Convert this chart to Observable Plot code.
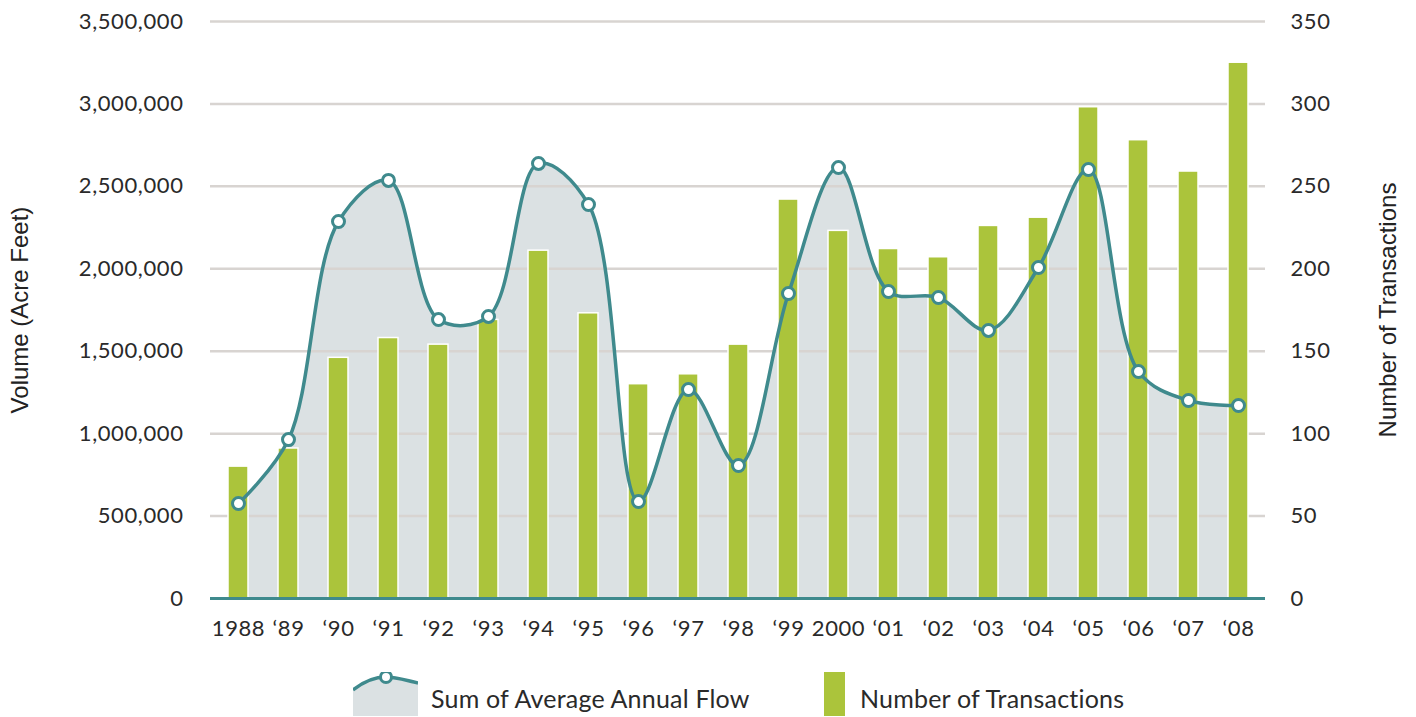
<!DOCTYPE html>
<html>
<head>
<meta charset="utf-8">
<script src="https://cdn.jsdelivr.net/npm/d3@7"></script>
<script src="https://cdn.jsdelivr.net/npm/@observablehq/plot@0.6"></script>
<style>
  html, body { margin: 0; padding: 0; background: #fff; }
  #chart { width: 1416px; height: 660px; }
  .legend { position: relative; height: 57px; width: 1416px; font-family: Lato, "Noto Sans", sans-serif; font-size: 25px; letter-spacing: 0.2px; color: #2a2a2a; }
  .legend .item { position: absolute; display: flex; align-items: center; height: 44px; }
  .legend svg { display: block; }
</style>
</head>
<body>
<div id="chart"></div>
<div class="legend" id="legend"></div>
<script>
const years = ["1988","‘89","‘90","‘91","‘92","‘93","‘94","‘95","‘96","‘97","‘98","‘99","2000","‘01","‘02","‘03","‘04","‘05","‘06","‘07","‘08"];
const volume = [576000, 964000, 2287000, 2536000, 1692000, 1711000, 2639000, 2390000, 588000, 1268000, 807000, 1850000, 2614000, 1862000, 1826000, 1626000, 2008000, 2602000, 1377000, 1201000, 1171000];
const transactions = [80, 91, 146, 158, 154, 169, 211, 173, 130, 136, 154, 242, 223, 212, 207, 226, 231, 298, 278, 259, 325];
const leftTicks = [0, 500000, 1000000, 1500000, 2000000, 2500000, 3000000, 3500000];
const rightTicks = [0, 50, 100, 150, 200, 250, 300, 350];

const ratio = 3500000 / 350;
const data = years.map((y, i) => ({year: y, volume: volume[i], count: transactions[i]}));

const teal = "#3f8a8d";
const green = "#abc43b";
const areaFill = "#dbe1e3";
const gridColor = "#d8d4d1";
const textColor = "#2a2a2a";
const titleFont = "'Liberation Sans', Arial, sans-serif";

const chart = Plot.plot({
  width: 1416,
  height: 660,
  marginTop: 21,
  marginBottom: 62,
  marginLeft: 210,
  marginRight: 151,
  style: {fontFamily: "Lato, sans-serif", fontSize: "22px", color: textColor, background: "#fff", letterSpacing: "0.6px"},
  x: {type: "band", domain: years, paddingInner: 0.6, paddingOuter: 0.3, align: 0.5},
  y: {domain: [0, 3500000]},
  marks: [
    Plot.areaY(data, {x: "year", y: "volume", fill: areaFill, curve: "catmull-rom"}),
    Plot.ruleY(leftTicks.filter(d => d > 0), {stroke: gridColor, strokeWidth: 2.5}),
    Plot.barY(data, {x: "year", y: d => d.count * ratio, fill: green, stroke: "#fff", strokeWidth: 1.5}),
    Plot.ruleY([0], {stroke: teal, strokeWidth: 3}),
    Plot.lineY(data, {x: "year", y: "volume", stroke: teal, strokeWidth: 3.5, curve: "catmull-rom"}),
    Plot.dot(data, {x: "year", y: "volume", r: 6, fill: "#fff", stroke: teal, strokeWidth: 3}),
    Plot.axisX({ticks: years, tickSize: 0, tickPadding: 22, fontSize: 22, label: null}),
    Plot.axisY({anchor: "left", ticks: leftTicks, tickSize: 0, tickPadding: 27, fontSize: 22,
      tickFormat: d3.format(","), label: "Volume (Acre Feet)", labelAnchor: "center", labelArrow: "none",
      labelOffset: 200}),
    Plot.axisY({anchor: "right", ticks: rightTicks.map(d => d * ratio), tickSize: 0, tickPadding: 25, fontSize: 22,
      tickFormat: d => String(d / ratio), label: "Number of Transactions", labelAnchor: "center", labelArrow: "none",
      labelOffset: 130})
  ]
});
document.getElementById("chart").appendChild(chart);

// axis titles in an Arial-like face
chart.querySelectorAll("text").forEach(el => {
  const t = el.textContent;
  if (t === "Volume (Acre Feet)" || t === "Number of Transactions") {
    el.style.fontFamily = titleFont;
    el.style.fontSize = "24px";
    el.style.letterSpacing = "0px";
    el.setAttribute("fill", "#222");
  }
});

// Legend
const legend = document.getElementById("legend");
const item1 = document.createElement("div");
item1.className = "item";
item1.style.left = "353px";
item1.style.top = "12px";
item1.innerHTML = `<svg width="65" height="44" viewBox="0 0 65 44">
  <path d="M0,18 C10,10 22,5 33,5 C44,5 55,9 65,11 L65,44 L0,44 Z" fill="${areaFill}"/>
  <path d="M0,18 C10,10 22,5 33,5 C44,5 55,9 65,11" fill="none" stroke="${teal}" stroke-width="3.5"/>
  <circle cx="33" cy="5" r="5.5" fill="#fff" stroke="${teal}" stroke-width="3"/>
</svg><span style="margin-left:13px; margin-top:8px">Sum of Average Annual Flow</span>`;
legend.appendChild(item1);
const item2 = document.createElement("div");
item2.className = "item";
item2.style.left = "824px";
item2.style.top = "12px";
item2.innerHTML = `<svg width="21" height="44"><rect x="0" y="0" width="21" height="44" fill="${green}"/></svg><span style="margin-left:15px; margin-top:8px">Number of Transactions</span>`;
legend.appendChild(item2);
</script>
</body>
</html>
